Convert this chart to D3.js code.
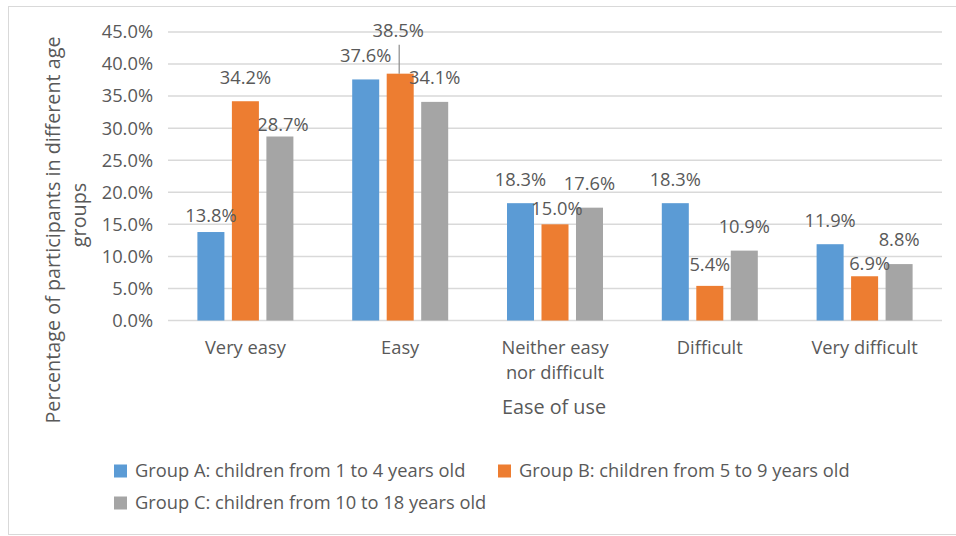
<!DOCTYPE html>
<html>
<head>
<meta charset="utf-8">
<script src="https://cdn.jsdelivr.net/npm/d3@7/dist/d3.min.js"></script>
<style>
  html, body { margin: 0; padding: 0; background: #fff; }
  svg text { font-family: "Open Sans", "Noto Sans", sans-serif; fill: #595959; }
</style>
</head>
<body>
<svg id="chart" width="956" height="536"></svg>
<script>
// Ease-of-use ratings by age group (share of participants)
const categories = ["Very easy", "Easy", "Neither easy nor difficult", "Difficult", "Very difficult"];
const categoryLines = [["Very easy"], ["Easy"], ["Neither easy", "nor difficult"], ["Difficult"], ["Very difficult"]];
const seriesNames = [
  "Group A: children from 1 to 4 years old",
  "Group B: children from 5 to 9 years old",
  "Group C: children from 10 to 18 years old"
];
const groupA = [13.8, 37.6, 18.3, 18.3, 11.9];
const groupB = [34.2, 38.5, 15.0, 5.4, 6.9];
const groupC = [28.7, 34.1, 17.6, 10.9, 8.8];
const yTicks = [0, 5, 10, 15, 20, 25, 30, 35, 40, 45];
const colors = ["#5B9BD5", "#ED7D31", "#A5A5A5"];

const seriesValues = [groupA, groupB, groupC];

const baseFont = "18.3px";
const titleFont = "19.8px";

// label nudges (dx, dy in px) for labels moved off their default spot
const labelNudge = {
  "0-0": [0, 8], "0-2": [3, 12],
  "1-1": [-2, -19],
  "2-1": [2, 8],
  "3-1": [0, 3],
  "4-1": [5, 11]
};

const svg = d3.select("#chart");

// chart border
svg.append("rect")
  .attr("x", 8.5).attr("y", 6.5).attr("width", 960).attr("height", 528)
  .attr("fill", "#fff").attr("stroke", "#d9d9d9").attr("stroke-width", 1);

const plot = { left: 168, right: 942, top: 32, bottom: 320.5 };

const y = d3.scaleLinear().domain([0, 45]).range([plot.bottom, plot.top]);
const x = d3.scaleBand().domain(categories).range([plot.left, plot.right]).padding(0);
const xs = d3.scaleBand().domain(d3.range(3)).range([-48, 48]).paddingInner(0.217).paddingOuter(0);

// gridlines
svg.append("g").selectAll("line").data(yTicks).join("line")
  .attr("x1", plot.left).attr("x2", plot.right)
  .attr("y1", d => y(d)).attr("y2", d => y(d))
  .attr("stroke", "#d9d9d9").attr("stroke-width", 1.5);

// y axis tick labels
const yAxis = d3.axisLeft(y).tickValues(yTicks).tickFormat(d => d.toFixed(1) + "%").tickSize(0).tickPadding(0);
const yg = svg.append("g").attr("transform", `translate(153,0)`).call(yAxis);
yg.select(".domain").remove();
yg.selectAll("text").style("font-size", baseFont).attr("fill", "#595959")
  .attr("font-family", null);

// bars
const rows = [];
categories.forEach((c, ci) => {
  seriesValues.forEach((vals, si) => rows.push({ c, ci, si, v: vals[ci] }));
});

svg.append("g").selectAll("rect").data(rows).join("rect")
  .attr("x", d => x(d.c) + x.bandwidth() / 2 + xs(d.si))
  .attr("width", xs.bandwidth())
  .attr("y", d => y(d.v))
  .attr("height", d => y(0) - y(d.v))
  .attr("fill", d => colors[d.si]);

// value labels
const lbl = svg.append("g");
rows.forEach(d => {
  const n = labelNudge[d.ci + "-" + d.si] || [0, 0];
  const cx = x(d.c) + x.bandwidth() / 2 + xs(d.si) + xs.bandwidth() / 2 + n[0];
  const cy = y(d.v) - 24 + n[1];
  lbl.append("text")
    .attr("x", cx).attr("y", cy).attr("dy", "0.35em")
    .attr("text-anchor", "middle").style("font-size", baseFont)
    .text(d.v.toFixed(1) + "%");
  if (d.ci === 1 && d.si === 1) {
    // leader line from the raised label down to its bar
    const bx = x(d.c) + x.bandwidth() / 2 + xs(d.si) + xs.bandwidth() / 2 - 1;
    svg.append("line")
      .attr("x1", bx).attr("x2", bx)
      .attr("y1", cy + 14).attr("y2", y(d.v))
      .attr("stroke", "#8c8c8c").attr("stroke-width", 1.2);
  }
});

// category labels
const cat = svg.append("g");
categories.forEach((c, ci) => {
  const t = cat.append("text")
    .attr("x", x(c) + x.bandwidth() / 2).attr("y", 348)
    .attr("text-anchor", "middle").style("font-size", baseFont);
  categoryLines[ci].forEach((line, li) => {
    t.append("tspan").attr("x", x(c) + x.bandwidth() / 2).attr("dy", li === 0 ? "0.35em" : "25px").text(line);
  });
});

// axis titles
svg.append("text")
  .attr("x", 554).attr("y", 407).attr("dy", "0.35em")
  .attr("text-anchor", "middle").style("font-size", titleFont)
  .text("Ease of use");

const yt = svg.append("text")
  .attr("transform", "rotate(-90)")
  .attr("text-anchor", "middle").style("font-size", titleFont);
yt.append("tspan").attr("x", -230).attr("y", 60).text("Percentage of participants in different age");
yt.append("tspan").attr("x", -215).attr("y", 86).text("groups");

// legend
const legendPos = [[114, 471], [498, 471], [114, 503]];
const lg = svg.append("g");
seriesNames.forEach((name, i) => {
  const [lx, ly] = legendPos[i];
  lg.append("rect").attr("x", lx).attr("y", ly - 6.5).attr("width", 13).attr("height", 13).attr("fill", colors[i]);
  lg.append("text").attr("x", lx + 21).attr("y", ly).attr("dy", "0.35em")
    .style("font-size", baseFont).text(name);
});
</script>
</body>
</html>
